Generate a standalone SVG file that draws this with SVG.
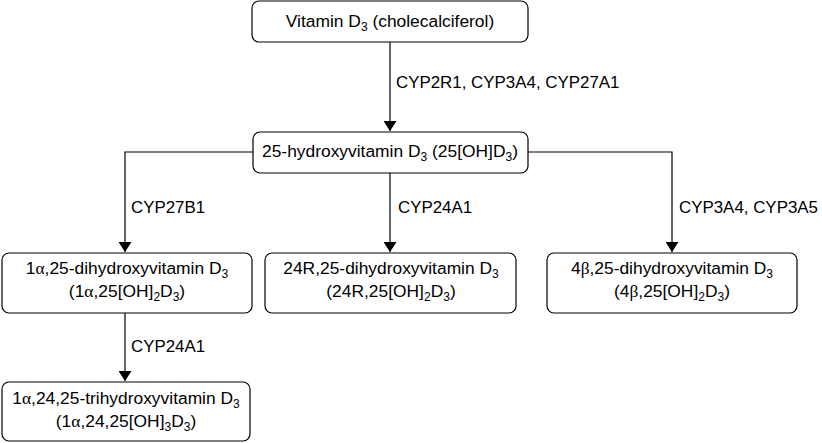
<svg xmlns="http://www.w3.org/2000/svg" width="822" height="443" viewBox="0 0 822 443">
<style>
.box{fill:#fff;stroke:#000;stroke-width:1.2}
.t{font-family:"Liberation Sans",Arial,sans-serif;font-size:17.4px;fill:#000;text-anchor:middle}
.l{font-family:"Liberation Sans",Arial,sans-serif;font-size:16.9px;fill:#000}
.g{font-family:"Liberation Serif","Times New Roman",serif}
.s{font-size:12px}
.c{fill:none;stroke:#000;stroke-width:1.2}
</style>
<defs>
<marker id="ah" viewBox="0 0 10 13" refX="10" refY="6.5" markerWidth="10" markerHeight="13" markerUnits="userSpaceOnUse" orient="auto">
<path d="M0,0 L10,6.5 L0,13 Z" fill="#000"/>
</marker>
</defs>
<g id="connectors">
<path class="c" d="M390,41 V131" marker-end="url(#ah)"/>
<path class="c" d="M253,152 H125 V252" marker-end="url(#ah)"/>
<path class="c" d="M390,173 V252" marker-end="url(#ah)"/>
<path class="c" d="M528,152 H672 V252" marker-end="url(#ah)"/>
<path class="c" d="M125,313 V381" marker-end="url(#ah)"/>
<text class="l" x="396" y="88">CYP2R1, CYP3A4, CYP27A1</text>
<text class="l" x="131" y="213">CYP27B1</text>
<text class="l" x="398" y="213">CYP24A1</text>
<text class="l" x="679" y="213">CYP3A4, CYP3A5</text>
<text class="l" x="131" y="352">CYP24A1</text>
</g>
<g id="vitd3">
<rect class="box" x="252" y="1" width="276" height="41" rx="7"/>
<text class="t" x="390" y="27">Vitamin D<tspan class="s" dy="4">3</tspan><tspan dy="-4"> (cholecalciferol)</tspan></text>
</g>
<g id="hydroxy25">
<rect class="box" x="253" y="132" width="275" height="41" rx="7"/>
<text class="t" x="390" y="157">25-hydroxyvitamin D<tspan class="s" dy="4">3</tspan><tspan dy="-4"> (25[OH]D</tspan><tspan class="s" dy="4">3</tspan><tspan dy="-4">)</tspan></text>
</g>
<g id="dihydroxy1a">
<rect class="box" x="2" y="253" width="250" height="60" rx="7"/>
<text class="t" x="127" y="274">1<tspan class="g">α</tspan>,25-dihydroxyvitamin D<tspan class="s" dy="4">3</tspan></text>
<text class="t" x="127" y="297">(1<tspan class="g">α</tspan>,25[OH]<tspan class="s" dy="4">2</tspan><tspan dy="-4">D</tspan><tspan class="s" dy="4">3</tspan><tspan dy="-4">)</tspan></text>
</g>
<g id="dihydroxy24R">
<rect class="box" x="265" y="253" width="251" height="60" rx="7"/>
<text class="t" x="391" y="274">24R,25-dihydroxyvitamin D<tspan class="s" dy="4">3</tspan></text>
<text class="t" x="391" y="297">(24R,25[OH]<tspan class="s" dy="4">2</tspan><tspan dy="-4">D</tspan><tspan class="s" dy="4">3</tspan><tspan dy="-4">)</tspan></text>
</g>
<g id="dihydroxy4b">
<rect class="box" x="547" y="253" width="250" height="60" rx="7"/>
<text class="t" x="672" y="274">4<tspan class="g">β</tspan>,25-dihydroxyvitamin D<tspan class="s" dy="4">3</tspan></text>
<text class="t" x="672" y="297">(4<tspan class="g">β</tspan>,25[OH]<tspan class="s" dy="4">2</tspan><tspan dy="-4">D</tspan><tspan class="s" dy="4">3</tspan><tspan dy="-4">)</tspan></text>
</g>
<g id="trihydroxy">
<rect class="box" x="2" y="382" width="248" height="59" rx="7"/>
<text class="t" x="126" y="404">1<tspan class="g">α</tspan>,24,25-trihydroxyvitamin D<tspan class="s" dy="4">3</tspan></text>
<text class="t" x="126" y="427">(1<tspan class="g">α</tspan>,24,25[OH]<tspan class="s" dy="4">3</tspan><tspan dy="-4">D</tspan><tspan class="s" dy="4">3</tspan><tspan dy="-4">)</tspan></text>
</g>
</svg>
